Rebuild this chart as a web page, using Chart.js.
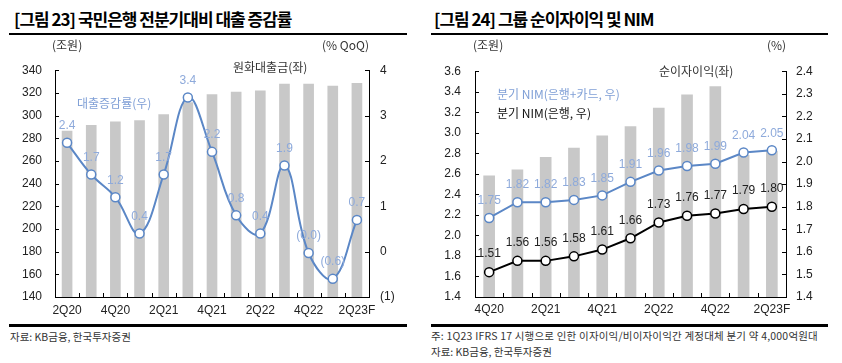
<!DOCTYPE html>
<html><head><meta charset="utf-8">
<script src="https://cdn.jsdelivr.net/npm/chart.js@4"></script>
<style>
body{margin:0;width:842px;height:363px;background:#fff;position:relative;overflow:hidden;font-family:"Noto Sans CJK KR","Noto Sans",sans-serif;}
.t{position:absolute;white-space:nowrap;line-height:1;color:#333;}
.title{font-weight:bold;font-size:17px;color:#000;letter-spacing:-1px;}
.hr{position:absolute;background:#000;}
canvas{position:absolute;}
</style></head><body>
<div class="t title" style="left:14px;top:10px;">[그림 23] 국민은행 전분기대비 대출 증감률</div>
<div class="t title" style="left:434px;top:10px;">[그림 24] 그룹 순이자이익 및 NIM</div>
<div class="hr" style="left:9px;top:33px;width:398px;height:2px;"></div>
<div class="hr" style="left:431px;top:33px;width:397px;height:2px;"></div>
<div class="hr" style="left:9px;top:324px;width:398px;height:3px;"></div>
<div class="hr" style="left:431px;top:324px;width:397px;height:3px;"></div>

<canvas id="c1" width="420" height="275" style="left:0;top:50px;"></canvas>
<canvas id="c2" width="422" height="275" style="left:420px;top:50px;"></canvas>

<div class="t" style="left:52px;top:39px;font-size:12px;">(조원)</div>
<div class="t" style="left:322px;top:39px;font-size:12px;">(% QoQ)</div>
<div class="t" style="left:233px;top:61px;font-size:12px;">원화대출금(좌)</div>
<div class="t" style="left:77px;top:97px;font-size:12px;color:#7F9FD6;">대출증감률(우)</div>

<div class="t" style="left:473px;top:39px;font-size:12px;">(조원)</div>
<div class="t" style="left:767px;top:39px;font-size:12px;">(%)</div>
<div class="t" style="left:659px;top:65px;font-size:12px;">순이자이익(좌)</div>
<div class="t" style="left:497px;top:88px;font-size:12px;color:#7F9FD6;">분기 NIM(은행+카드, 우)</div>
<div class="t" style="left:497px;top:107px;font-size:12px;color:#111;">분기 NIM(은행, 우)</div>

<div class="t" style="left:10px;top:332px;font-size:10.5px;">자료: KB금융, 한국투자증권</div>
<div class="t" style="left:431px;top:331px;font-size:10.5px;letter-spacing:0.2px;">주: 1Q23 IFRS 17 시행으로 인한 이자이익/비이자이익간 계정대체 분기 약 4,000억원대</div>
<div class="t" style="left:431px;top:347px;font-size:10.5px;">자료: KB금융, 한국투자증권</div>

<script>
// ---- data ----
const leftCats = ['2Q20','3Q20','4Q20','1Q21','2Q21','3Q21','4Q21','1Q22','2Q22','3Q22','4Q22','1Q23','2Q23F'];
const loanBalance = [286.4,291.3,294.5,295.6,300.9,311.5,318.5,320.6,321.7,327.8,327.8,326.0,328.4];
const loanGrowth = [2.4,1.7,1.2,0.4,1.7,3.4,2.2,0.8,0.4,1.9,-0.03,-0.6,0.7];

const rightCats = ['4Q20','1Q21','2Q21','3Q21','4Q21','1Q22','2Q22','3Q22','4Q22','1Q23','2Q23F'];
const netInterestIncome = [2.58,2.64,2.76,2.85,2.97,3.06,3.24,3.37,3.45,2.78,2.82];
const nimBankCard = [1.75,1.82,1.82,1.83,1.85,1.91,1.96,1.98,1.99,2.04,2.05];
const nimBank = [1.51,1.56,1.56,1.58,1.61,1.66,1.73,1.76,1.77,1.79,1.80];

const BAR = '#C8C8C8', BLUE = '#5B87C6', LBLUE = '#8EAADB';
const tickFont = {family:'"Liberation Sans", Arial, sans-serif', size:12};

const inTicks = {id:'inTicks', afterDraw(chart){
  const {ctx, chartArea:a, scales:{x,y,y2}} = chart;
  ctx.save(); ctx.strokeStyle='#000'; ctx.lineWidth=1; ctx.beginPath();
  y.ticks.forEach(t=>{const p=Math.round(y.getPixelForValue(t.value))+0.5; ctx.moveTo(a.left,p); ctx.lineTo(a.left+4,p);});
  y2.ticks.forEach(t=>{const p=Math.round(y2.getPixelForValue(t.value))+0.5; ctx.moveTo(a.right-4,p); ctx.lineTo(a.right,p);});
  for(let i=1;i<x.ticks.length;i++){const p=Math.round((x.getPixelForValue(i-1)+x.getPixelForValue(i))/2)+0.5; ctx.moveTo(p,a.bottom); ctx.lineTo(p,a.bottom-4);}
  ctx.stroke(); ctx.restore();
}};
const valLabels = {id:'valLabels', afterDatasetsDraw(chart){
  const ctx = chart.ctx;
  chart.data.datasets.forEach((ds,di)=>{
    if(!ds.labelColor) return;
    const meta = chart.getDatasetMeta(di);
    ctx.save(); ctx.fillStyle=ds.labelColor; ctx.font='12px "Liberation Sans", Arial, sans-serif';
    ctx.textAlign='center'; ctx.textBaseline='middle';
    meta.data.forEach((el,i)=>{ ctx.fillText(ds.fmt(ds.data[i]), el.x, el.y-ds.labelOffset); });
    ctx.restore();
  });
}};

function axisBase(extra){
  return Object.assign({
    grid:{display:true, drawOnChartArea:false, drawTicks:false},
    border:{display:true, color:'#000', width:1}
  }, extra);
}

const fmt1 = v => v<0 ? '('+Math.abs(v).toFixed(1)+')' : v.toFixed(1);
const fmt2 = v => v.toFixed(2);

new Chart(document.getElementById('c1'), {
  data:{labels:leftCats, datasets:[
    {type:'line', label:'대출증감률(우)', data:loanGrowth, yAxisID:'y2', order:0,
     borderColor:BLUE, borderWidth:2, tension:0.4, pointRadius:4.5, pointBorderWidth:1.5,
     pointBackgroundColor:'#fff', pointBorderColor:BLUE,
     labelColor:LBLUE, labelOffset:17, fmt:fmt1},
    {type:'bar', label:'원화대출금(좌)', data:loanBalance, yAxisID:'y', order:1,
     backgroundColor:BAR, barThickness:10}
  ]},
  options:{responsive:false, animation:false, devicePixelRatio:1,
    layout:{padding:{top:17,left:0,right:0,bottom:0}},
    plugins:{legend:{display:false}, tooltip:{enabled:false}},
    scales:{
      x:axisBase({offset:true, ticks:{autoSkip:false, maxRotation:0, padding:6, color:'#222', font:tickFont,
          callback:(v,i)=> i%2===0 ? leftCats[i] : ''}, afterFit:s=>{s.height=28;}}),
      y:axisBase({position:'left', min:140, max:340, ticks:{stepSize:20, padding:13, color:'#222', font:tickFont},
          afterFit:s=>{s.width=55;}}),
      y2:axisBase({position:'right', min:-1, max:4, ticks:{stepSize:1, padding:11, color:'#222', font:tickFont,
          callback:v=> v<0 ? '('+Math.abs(v)+')' : String(v)}, afterFit:s=>{s.width=51;}})
    }
  },
  plugins:[inTicks, valLabels]
});

new Chart(document.getElementById('c2'), {
  data:{labels:rightCats, datasets:[
    {type:'line', label:'분기 NIM(은행+카드, 우)', data:nimBankCard, yAxisID:'y2', order:0,
     borderColor:BLUE, borderWidth:2, tension:0, pointRadius:4.5, pointBorderWidth:1.5,
     pointBackgroundColor:'#fff', pointBorderColor:BLUE,
     labelColor:LBLUE, labelOffset:17, fmt:fmt2},
    {type:'line', label:'분기 NIM(은행, 우)', data:nimBank, yAxisID:'y2', order:1,
     borderColor:'#000', borderWidth:2, tension:0, pointRadius:4.5, pointBorderWidth:1.5,
     pointBackgroundColor:'#fff', pointBorderColor:'#000',
     labelColor:'#222', labelOffset:18, fmt:fmt2},
    {type:'bar', label:'순이자이익(좌)', data:netInterestIncome, yAxisID:'y', order:2,
     backgroundColor:BAR, barThickness:11}
  ]},
  options:{responsive:false, animation:false, devicePixelRatio:1,
    layout:{padding:{top:16,left:0,right:0,bottom:0}},
    plugins:{legend:{display:false}, tooltip:{enabled:false}},
    scales:{
      x:axisBase({offset:true, ticks:{autoSkip:false, maxRotation:0, padding:5, color:'#222', font:tickFont,
          callback:(v,i)=> i%2===0 ? rightCats[i] : ''}, afterFit:s=>{s.height=28;}}),
      y:axisBase({position:'left', min:1.4, max:3.6, ticks:{stepSize:0.2, padding:14, color:'#222', font:tickFont,
          callback:v=>v.toFixed(1)}, afterFit:s=>{s.width=55;}}),
      y2:axisBase({position:'right', min:1.4, max:2.4, ticks:{stepSize:0.1, padding:10, color:'#222', font:tickFont,
          callback:v=>v.toFixed(1)}, afterFit:s=>{s.width=56;}})
    }
  },
  plugins:[inTicks, valLabels]
});
</script>
</body></html>
